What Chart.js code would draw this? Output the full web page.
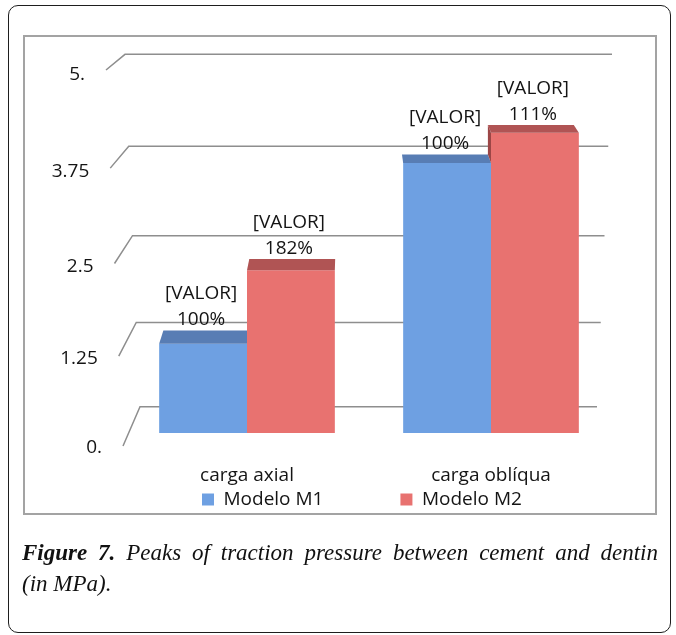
<!DOCTYPE html>
<html>
<head>
<meta charset="utf-8">
<title>Peaks of traction pressure</title>
<script src="https://cdn.jsdelivr.net/npm/chart.js@4.4.1/dist/chart.umd.min.js"></script>
<style>
  html, body { margin: 0; padding: 0; background: #ffffff; }
  #page { position: relative; width: 676px; height: 635px; overflow: hidden; }
  #frame {
    position: absolute; left: 8px; top: 5px; width: 663px; height: 628px;
    box-sizing: border-box; border: 1.5px solid #1e1e1e; border-radius: 10px;
  }
  #plotbox {
    position: absolute; left: 23px; top: 35px; width: 634px; height: 480px;
    box-sizing: border-box; border: 2px solid #a3a3a3;
  }
  #chart { position: absolute; left: 0; top: 0; }
  #caption {
    position: absolute; left: 22px; top: 537px; width: 636px;
    font-family: "Liberation Serif", "DejaVu Serif", serif;
    font-style: italic; font-size: 23px; line-height: 31px; color: #111;
  }
  #caption .first { text-align: justify; text-align-last: justify; }
  #caption b { font-weight: bold; }
</style>
</head>
<body>
<div id="page">
  <div id="frame"></div>
  <div id="plotbox"></div>
  <canvas id="chart" width="676" height="635"></canvas>
  <div id="caption">
    <div class="first"><b>Figure 7.</b> Peaks of traction pressure between cement and dentin</div>
    <div>(in MPa).</div>
  </div>
</div>
<script>
// Peak traction pressure (MPa) for each load case
const categories = ['carga axial', 'carga oblíqua'];
const seriesNames = ['Modelo M1', 'Modelo M2'];
const modeloM1 = [1.24, 3.75];
const modeloM2 = [2.26, 4.17];
const yTickValues = [0, 1.25, 2.5, 3.75, 5];
const yTickLabels = ['0.', '1.25', '2.5', '3.75', '5.'];
const valuePlaceholder = '[VALOR]';

const FONT = '"Open Sans", "Noto Sans", sans-serif';
const TEXT = '#141414';
const frontColors = ['#6EA0E2', '#E87270'];
const topColors = ['#587DB4', '#B05454'];
const sideColors = ['#4E6FA3', '#9C4646'];

// Each bar expressed as a percentage of Modelo M1 in the same load case
const seriesValues = [modeloM1, modeloM2];
const percentLabels = seriesValues.map(vals =>
  vals.map((v, i) => Math.round(v / modeloM1[i] * 100) + '%'));

// Back wall: gridlines drawn in a shallow perspective, with a slanted
// return toward the front edge where the value labels sit.
const wallPlugin = {
  id: 'wall3d',
  beforeDatasetsDraw(chart) {
    const { ctx, chartArea: a } = chart;
    const ys = chart.scales.y;
    ctx.save();
    ctx.strokeStyle = '#8e8e8e';
    ctx.lineWidth = 1.5;
    ctx.font = '19px ' + FONT;
    ctx.fillStyle = TEXT;
    ctx.textAlign = 'right';
    ctx.textBaseline = 'middle';
    ys.ticks.forEach(tk => {
      const p = ys.getPixelForValue(tk.value);
      const t = (p - a.top) / (a.bottom - a.top);
      const labelY = p + 35 * t - 22 * t * t;
      const frontX = a.left - 19 + 17 * t;
      const backX0 = a.left + 15 * t;
      const backX1 = a.right - 1 - 15 * t;
      const backY = p - (18.7 - 13.2 * t + 20.8 * t * t);
      ctx.beginPath();
      ctx.moveTo(frontX, labelY - 3 + 3 * t);
      ctx.lineTo(backX0, backY);
      ctx.lineTo(backX1, backY);
      ctx.stroke();
      const idx = yTickValues.indexOf(tk.value);
      ctx.fillText(yTickLabels[idx], frontX - 21, labelY + 1.4);
    });
    ctx.restore();
  },
  afterDatasetsDraw(chart) {
    const ctx = chart.ctx;
    const bars = chart.data.datasets.map((ds, di) =>
      chart.getDatasetMeta(di).data.map(el => el.getProps(['x', 'y', 'width'], true)));
    const depth = y => 0.0263 * (y + 161);
    const lean = x => (350 - x) * 0.022;
    ctx.save();
    bars.forEach((list, di) => {
      list.forEach((b, j) => {
        const xl = b.x - b.width / 2, xr = b.x + b.width / 2;
        const d = depth(b.y);
        let dl = lean(xl), dr = lean(xr);
        const next = bars[di + 1] && bars[di + 1][j];
        if (next && next.y < b.y) dr = Math.min(dr, 0);
        const prev = bars[di - 1] && bars[di - 1][j];
        // top face
        ctx.fillStyle = topColors[di];
        ctx.beginPath();
        ctx.moveTo(xl, b.y);
        ctx.lineTo(xr, b.y);
        ctx.lineTo(xr + dr, b.y - d);
        ctx.lineTo(xl + dl, b.y - d);
        ctx.closePath();
        ctx.fill();
        // exposed left side above a shorter neighbour
        if (prev && prev.y > b.y && dl < 0) {
          ctx.fillStyle = sideColors[di];
          ctx.beginPath();
          ctx.moveTo(xl, b.y);
          ctx.lineTo(xl + dl, b.y - d);
          ctx.lineTo(xl + dl, prev.y - depth(prev.y));
          ctx.lineTo(xl, prev.y);
          ctx.closePath();
          ctx.fill();
        }
      });
    });
    // value labels
    ctx.font = '19px ' + FONT;
    ctx.fillStyle = TEXT;
    ctx.textAlign = 'center';
    ctx.textBaseline = 'middle';
    bars.forEach((list, di) => {
      list.forEach((b, j) => {
        const topY = b.y - depth(b.y);
        const cx = b.x - 2;
        const lower = topY - 12;
        ctx.fillText(percentLabels[di][j], cx, lower + 1.4);
        ctx.fillText(valuePlaceholder, cx, lower - 26 + 1.4);
      });
    });
    ctx.restore();
  },
  afterLayout(chart) {
    // legend row sits just under the category names
    const lg = chart.legend;
    const pad = lg.options.labels.padding;
    const rowTop = chart.chartArea.bottom + 57;
    lg.top = rowTop - pad;
    lg.bottom = lg.top + lg.height;
  }
};

new Chart(document.getElementById('chart'), {
  type: 'bar',
  data: {
    labels: categories,
    datasets: seriesNames.map((name, i) => ({
      label: name,
      data: seriesValues[i],
      backgroundColor: frontColors[i],
      borderWidth: 0,
      categoryPercentage: 0.72,
      barPercentage: 1.0
    }))
  },
  options: {
    responsive: false,
    animation: false,
    devicePixelRatio: 1,
    events: [],
    layout: { padding: { left: 125, right: 63, top: 73, bottom: 36 } },
    scales: {
      x: {
        display: true,
        grid: { display: false, drawTicks: false },
        border: { display: false },
        ticks: { font: { family: FONT, size: 19 }, color: TEXT, padding: 31 },
        afterFit: s => { s.height = 60; }
      },
      y: {
        display: false,
        min: 0,
        max: 5,
        afterBuildTicks: s => { s.ticks = yTickValues.map(v => ({ value: v })); }
      }
    },
    plugins: {
      legend: {
        position: 'bottom',
        align: 'start',
        labels: {
          font: { family: FONT, size: 19 },
          color: TEXT,
          boxWidth: 12,
          boxHeight: 12,
          padding: 77
        }
      },
      tooltip: { enabled: false },
      title: { display: false }
    }
  },
  plugins: [wallPlugin]
});
</script>
</body>
</html>
